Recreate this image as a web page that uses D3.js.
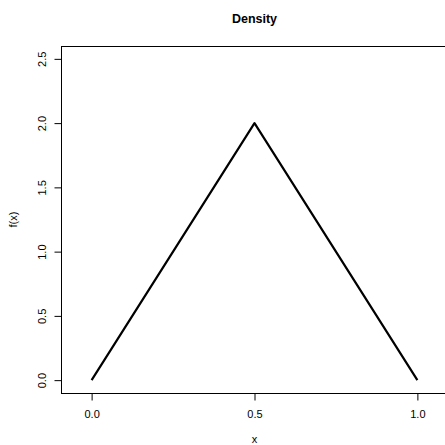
<!DOCTYPE html>
<html>
<head>
<meta charset="utf-8">
<script src="https://cdn.jsdelivr.net/npm/d3@7"></script>
<style>
  html, body { margin: 0; padding: 0; background: #fff; }
  text { font-family: "Liberation Sans", Arial, sans-serif; fill: #000; }
</style>
</head>
<body>
<div id="chart"></div>
<script>
// density of a triangular distribution on [0, 1]
const xs = [0, 0.5, 1];
const fx = [0, 2, 0];
const xTicks = [0, 0.5, 1];
const yTicks = [0, 0.5, 1, 1.5, 2, 2.5];

const width = 445, height = 445;
// plot box (right side runs off the canvas, as in the original)
const box = { left: 61, right: 448, top: 46, bottom: 393 };

const svg = d3.select("#chart").append("svg")
    .attr("width", width)
    .attr("height", height);

// R-style 4% padding around the limits
const x = d3.scaleLinear().domain([-0.094, 1.094]).range([box.left, box.right]);
const y = d3.scaleLinear().domain([-0.1, 2.6]).range([box.bottom, box.top]);

// box
svg.append("rect")
    .attr("x", box.left + 0.5).attr("y", box.top + 0.5)
    .attr("width", box.right - box.left).attr("height", box.bottom - box.top)
    .attr("fill", "none").attr("stroke", "#000").attr("stroke-width", 1);

// x axis
const xAxis = svg.append("g")
    .attr("transform", `translate(0,${box.bottom + 0.5})`)
    .call(d3.axisBottom(x).tickValues(xTicks).tickFormat(d3.format(".1f"))
        .tickSize(7).tickPadding(10));
xAxis.select(".domain").remove();
xAxis.selectAll("text").style("font-size", "11px").style("font-family", "Liberation Sans, Arial, sans-serif");

// y axis
const yAxis = svg.append("g")
    .attr("transform", `translate(${box.left + 0.5},0)`)
    .call(d3.axisLeft(y).tickValues(yTicks).tickFormat(d3.format(".1f")).tickSize(7));
yAxis.select(".domain").remove();
yAxis.selectAll("text")
    .attr("x", null).attr("dy", null)
    .attr("text-anchor", "middle")
    .attr("transform", "translate(-16,0) rotate(-90)")
    .style("font-size", "11px")
    .style("font-family", "Liberation Sans, Arial, sans-serif");

// density line
const line = d3.line().x((d, i) => x(xs[i])).y(d => y(d));
svg.append("path")
    .datum(fx)
    .attr("d", line)
    .attr("fill", "none")
    .attr("stroke", "#000")
    .attr("stroke-width", 2.2)
    .attr("stroke-linejoin", "round");

// title and axis labels
const cx = (box.left + box.right) / 2;
svg.append("text")
    .attr("x", cx).attr("y", 23)
    .attr("text-anchor", "middle")
    .style("font-size", "12.5px").style("font-weight", "bold")
    .text("Density");

svg.append("text")
    .attr("x", cx).attr("y", 443)
    .attr("text-anchor", "middle")
    .style("font-size", "11px")
    .text("x");

svg.append("text")
    .attr("transform", `translate(17,${(box.top + box.bottom) / 2}) rotate(-90)`)
    .attr("text-anchor", "middle")
    .style("font-size", "11px")
    .text("f(x)");
</script>
</body>
</html>
